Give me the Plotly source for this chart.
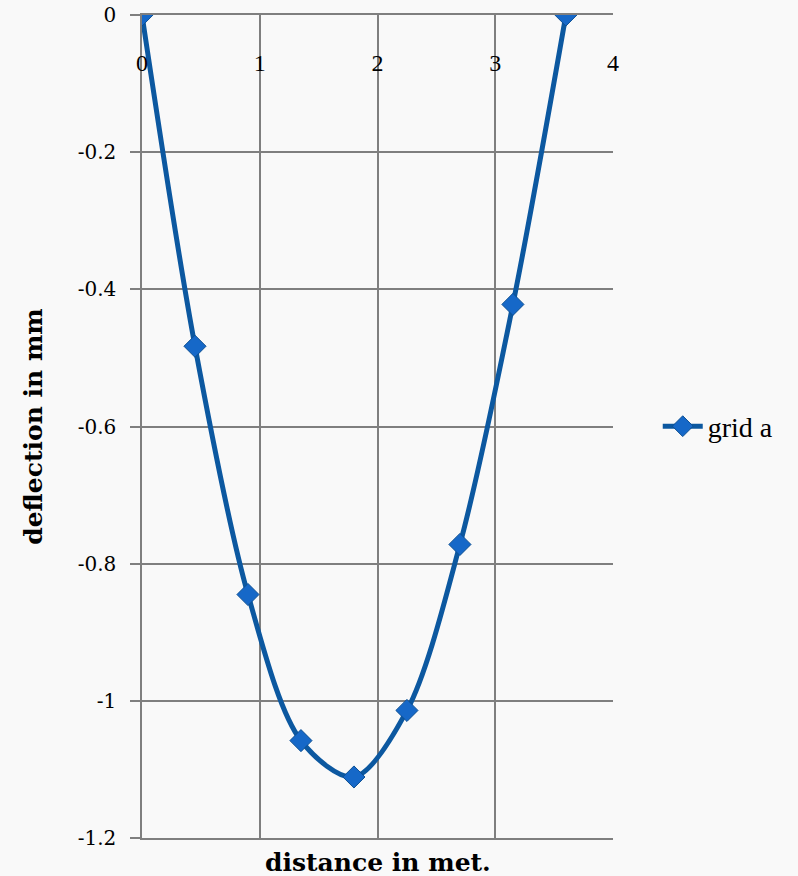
import plotly.graph_objects as go

distance = [0, 0.45, 0.9, 1.35, 1.8, 2.25, 2.7, 3.15, 3.6]
deflection = [0, -0.483, -0.845, -1.058, -1.111, -1.014, -0.772, -0.422, 0]
x_ticks = [0, 1, 2, 3, 4]
y_ticks = [0, -0.2, -0.4, -0.6, -0.8, -1, -1.2]
y_tick_text = ["0", "-0.2", "-0.4", "-0.6", "-0.8", "-1", "-1.2"]

FONT = "DejaVu Serif"
GRID = "#7f7f7f"

fig = go.Figure()
fig.add_trace(go.Scatter(
    x=distance, y=deflection, name="grid a", mode="lines+markers",
    line=dict(color="#0c58a0", width=5, shape="spline", smoothing=0.9),
    marker=dict(symbol="diamond", size=17, color="#1668c8",
                line=dict(color="#0c4f92", width=1)),
))
# carrier for the tick-label axis drawn just below the zero line
fig.add_trace(go.Scatter(
    x=distance, y=deflection, xaxis="x2", mode="markers",
    marker=dict(opacity=0), showlegend=False, hoverinfo="skip",
))

fig.update_layout(
    width=798, height=876,
    margin=dict(l=142, r=185, t=15, b=38),
    paper_bgcolor="#f9f9f9", plot_bgcolor="rgba(0,0,0,0)",
    font=dict(family=FONT, color="#000000"),
    showlegend=True,
    legend=dict(x=1.095, xanchor="left", y=0.5, yanchor="middle",
                font=dict(family="Liberation Serif", size=28),
                bgcolor="rgba(0,0,0,0)", itemwidth=40, tracegroupgap=0),
    xaxis=dict(
        range=[0, 4], tickvals=x_ticks, showticklabels=False, ticks="",
        showgrid=True, gridcolor=GRID, gridwidth=1.5,
        zeroline=False, showline=True, linecolor=GRID, linewidth=1.5,
        mirror=True, automargin=False,
    ),
    xaxis2=dict(
        range=[0, 4], tickvals=x_ticks, overlaying="x", anchor="free",
        position=0.962, side="bottom", ticks="", showgrid=False,
        showline=False, zeroline=False, automargin=False,
        tickfont=dict(family="Liberation Serif", size=24, color="#000000"),
    ),
    yaxis=dict(
        range=[-1.2, 0], tickvals=y_ticks, ticktext=y_tick_text,
        ticks="outside", ticklen=10, tickcolor=GRID, tickwidth=1.5,
        ticklabelstandoff=10, automargin=False,
        showgrid=True, gridcolor=GRID, gridwidth=1.5,
        zeroline=False, showline=True, linecolor=GRID, linewidth=1.5,
        tickfont=dict(family=FONT, size=20),
        title=dict(text="<b>deflection in mm</b>", font=dict(family=FONT, size=25), standoff=28),
    ),
)
fig.add_annotation(text="<b>distance in met.</b>", xref="paper", yref="paper",
                   x=0.5, y=0, yshift=-24, yanchor="middle", showarrow=False,
                   font=dict(family=FONT, size=25))

fig.write_html("out.html")
